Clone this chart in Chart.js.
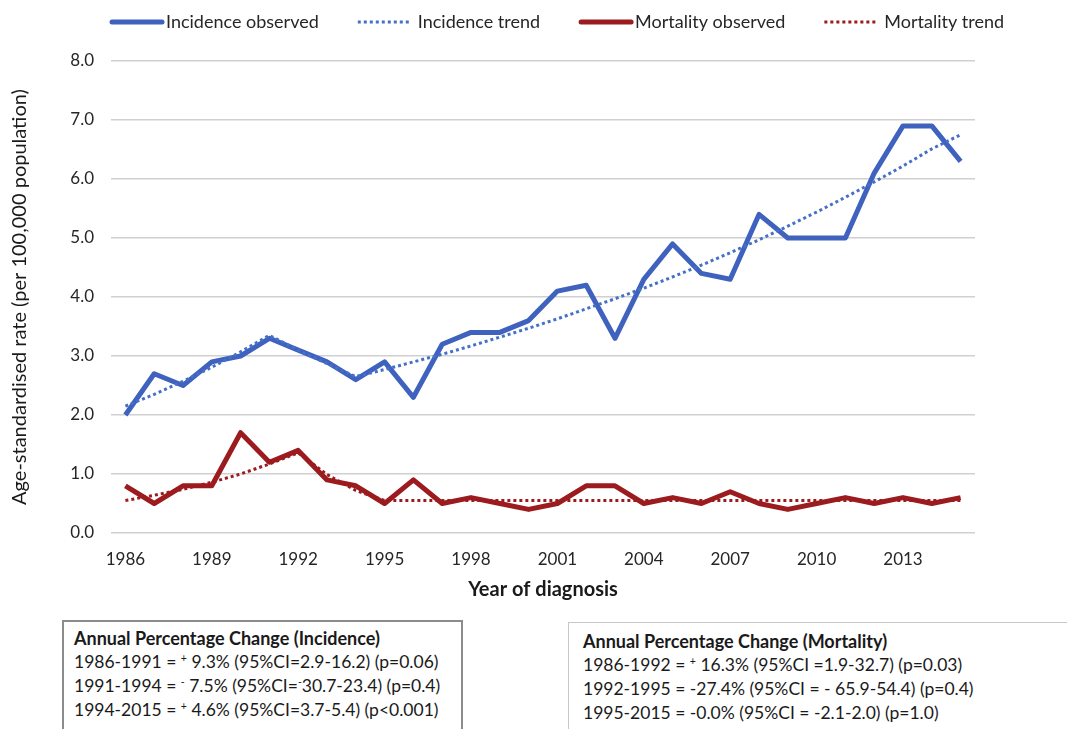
<!DOCTYPE html>
<html>
<head>
<meta charset="utf-8">
<script src="https://cdn.jsdelivr.net/npm/chart.js@4/dist/chart.umd.min.js"></script>
<style>
  html, body { margin: 0; padding: 0; background: #fff; }
  #wrap { position: relative; width: 1067px; height: 729px; overflow: hidden; font-family: Lato, "Open Sans", sans-serif; }
  #chartBox { position: absolute; left: 0; top: 0; width: 1067px; height: 612px; }
  .apc { position: absolute; box-sizing: border-box; background: #fff; color: #1a1a1a;
         font-size: 17.5px; line-height: 24px; padding: 4px 10px; white-space: nowrap; }
  .apc .head { font-weight: bold; font-size: 18px; }
  .apc sup { font-size: 0.6em; vertical-align: 0.55em; line-height: 0; }
  #apcInc  { left: 62px;  top: 620px; width: 401px; height: 130px; border: 2px solid #8c8c8c; }
  #apcMort { left: 568px; top: 622px; width: 520px; height: 130px; border: 1px solid #c8c8c8; padding: 6px 14px; }
</style>
</head>
<body>
<div id="wrap">
  <div id="chartBox"><canvas id="c"></canvas></div>
  <div class="apc" id="apcInc">
    <div class="head">Annual Percentage Change (Incidence)</div>
    <div>1986-1991 = <sup>+</sup> 9.3% (95%CI=2.9-16.2) (p=0.06)</div>
    <div>1991-1994 = <sup>-</sup> 7.5% (95%CI=<sup>-</sup>30.7-23.4) (p=0.4)</div>
    <div>1994-2015 = <sup>+</sup> 4.6% (95%CI=3.7-5.4) (p&lt;0.001)</div>
  </div>
  <div class="apc" id="apcMort">
    <div class="head">Annual Percentage Change (Mortality)</div>
    <div>1986-1992 = <sup>+</sup> 16.3% (95%CI =1.9-32.7) (p=0.03)</div>
    <div>1992-1995 = -27.4% (95%CI = - 65.9-54.4) (p=0.4)</div>
    <div>1995-2015 = -0.0% (95%CI = -2.1-2.0) (p=1.0)</div>
  </div>
</div>
<script>
// Years of diagnosis and the ones labelled on the axis
const years = ['1986','1987','1988','1989','1990','1991','1992','1993','1994','1995',
               '1996','1997','1998','1999','2000','2001','2002','2003','2004','2005',
               '2006','2007','2008','2009','2010','2011','2012','2013','2014','2015'];
const yearTicks = ['1986','1989','1992','1995','1998','2001','2004','2007','2010','2013'];

// Age-standardised rates per 100,000
const incidenceObserved = [2.0, 2.7, 2.5, 2.9, 3.0, 3.3, 3.1, 2.9, 2.6, 2.9,
                           2.3, 3.2, 3.4, 3.4, 3.6, 4.1, 4.2, 3.3, 4.3, 4.9,
                           4.4, 4.3, 5.4, 5.0, 5.0, 5.0, 6.1, 6.9, 6.9, 6.3];
const incidenceTrend    = [2.15, 2.35, 2.57, 2.81, 3.07, 3.35, 3.10, 2.87, 2.65, 2.77,
                           2.90, 3.03, 3.17, 3.32, 3.47, 3.63, 3.80, 3.97, 4.15, 4.34,
                           4.54, 4.75, 4.97, 5.20, 5.44, 5.69, 5.95, 6.22, 6.51, 6.75];
const mortalityObserved = [0.8, 0.5, 0.8, 0.8, 1.7, 1.2, 1.4, 0.9, 0.8, 0.5,
                           0.9, 0.5, 0.6, 0.5, 0.4, 0.5, 0.8, 0.8, 0.5, 0.6,
                           0.5, 0.7, 0.5, 0.4, 0.5, 0.6, 0.5, 0.6, 0.5, 0.6];
const mortalityTrend    = [0.55, 0.64, 0.74, 0.86, 1.00, 1.17, 1.36, 0.99, 0.72, 0.55,
                           0.55, 0.55, 0.55, 0.55, 0.55, 0.55, 0.55, 0.55, 0.55, 0.55,
                           0.55, 0.55, 0.55, 0.55, 0.55, 0.55, 0.55, 0.55, 0.55, 0.55];

const FONT = 'Lato, "Open Sans", sans-serif';
const BLUE = '#3f62bf';
const BLUE_DOT = '#4470c8';
const RED = '#9b1b1e';

// Legend row across the top: line sample followed by its label
const topLegend = {
  id: 'topLegend',
  afterDraw(chart) {
    const ctx = chart.ctx;
    const y = 22;
    let x = 110;
    ctx.save();
    ctx.font = '18px ' + FONT;
    ctx.textBaseline = 'middle';
    chart.data.datasets.forEach(ds => {
      const dotted = !!(ds.borderDash && ds.borderDash.length);
      ctx.beginPath();
      ctx.strokeStyle = ds.borderColor;
      ctx.lineWidth = ds.borderWidth;
      ctx.lineCap = dotted ? 'butt' : 'round';
      ctx.setLineDash(dotted ? ds.borderDash : []);
      ctx.moveTo(x + (dotted ? 0 : 2), y);
      ctx.lineTo(x + 52, y);
      ctx.stroke();
      ctx.setLineDash([]);
      const tx = x + (dotted ? 60 : 56);
      ctx.fillStyle = '#262626';
      ctx.fillText(ds.label, tx, y);
      x = tx + ctx.measureText(ds.label).width + 39;
    });
    ctx.restore();
  }
};

new Chart(document.getElementById('c'), {
  type: 'line',
  data: {
    labels: years,
    datasets: [
      { label: 'Incidence observed', data: incidenceObserved, borderColor: BLUE, borderWidth: 5, order: 3 },
      { label: 'Incidence trend', data: incidenceTrend, borderColor: BLUE_DOT, borderWidth: 3, borderDash: [3, 3], order: 2 },
      { label: 'Mortality observed', data: mortalityObserved, borderColor: RED, borderWidth: 5, order: 1 },
      { label: 'Mortality trend', data: mortalityTrend, borderColor: RED, borderWidth: 3, borderDash: [3, 3], order: 0 }
    ]
  },
  options: {
    responsive: true,
    maintainAspectRatio: false,
    animation: false,
    layout: { padding: { top: 61, right: 92, bottom: 0, left: 0 } },
    elements: {
      point: { radius: 0, hoverRadius: 0 },
      line: { tension: 0, borderJoinStyle: 'round', fill: false }
    },
    plugins: { legend: { display: false }, tooltip: { enabled: false } },
    scales: {
      x: {
        offset: true,
        grid: { display: false, drawTicks: false },
        border: { display: false },
        ticks: {
          autoSkip: false, maxRotation: 0, minRotation: 0, padding: 16,
          color: '#262626', font: { family: FONT, size: 17 },
          callback(v) { const l = this.getLabelForValue(v); return yearTicks.includes(l) ? l : ''; }
        },
        title: {
          display: true, text: 'Year of diagnosis', color: '#1a1a1a',
          font: { family: FONT, size: 20, weight: 'bold' }, padding: { top: 0, bottom: 10 }
        },
        afterFit(scale) { scale.height = 79; }
      },
      y: {
        min: 0, max: 8,
        grid: { color: '#d0d0d0', lineWidth: 1.5, drawTicks: false },
        border: { display: false },
        ticks: {
          stepSize: 1, padding: 17, color: '#262626', font: { family: FONT, size: 17 },
          callback(v) { return v.toFixed(1); }
        },
        title: {
          display: true, text: 'Age-standardised rate (per 100,000 population)', color: '#1a1a1a',
          font: { family: FONT, size: 20 }, padding: { top: 8, bottom: 0 }
        },
        afterFit(scale) { scale.width = 111; }
      }
    }
  },
  plugins: [topLegend]
});
</script>
</body>
</html>
